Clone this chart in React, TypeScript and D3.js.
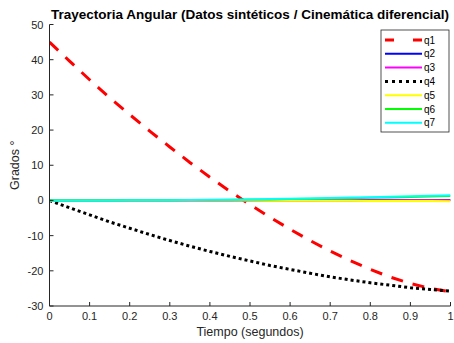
import React from "react";
import * as d3 from "d3";

const tValues = [0, 0.05, 0.1, 0.15, 0.2, 0.25, 0.3, 0.35, 0.4, 0.45, 0.5, 0.55, 0.6, 0.65, 0.7, 0.75, 0.8, 0.85, 0.9, 0.95, 1.0];
const q1 = [45, 39.6, 34.3, 29.2, 24.4, 19.7, 15.2, 10.8, 6.6, 2.6, -1.2, -4.8, -8.2, -11.4, -14.4, -17.1, -19.6, -21.8, -23.6, -25.0, -26.0];
const q2 = [0, 0, 0, 0, 0, 0, 0, 0, 0.01, 0.01, 0.02, 0.02, 0.03, 0.03, 0.04, 0.05, 0.05, 0.06, 0.07, 0.08, 0.09];
const q3 = [0, 0, 0, 0, 0, 0, 0, 0, 0, 0, 0.01, 0.01, 0.01, 0.01, 0.02, 0.02, 0.02, 0.03, 0.03, 0.03, 0.04];
const q4 = [0, -2.1, -4.1, -6.1, -7.9, -9.7, -11.4, -13.0, -14.5, -15.9, -17.2, -18.5, -19.6, -20.7, -21.7, -22.6, -23.4, -24.1, -24.8, -25.3, -25.8];
const q5 = [0, 0, 0, 0, 0, 0, -0.01, -0.02, -0.03, -0.04, -0.05, -0.06, -0.07, -0.09, -0.1, -0.11, -0.13, -0.15, -0.16, -0.18, -0.2];
const q6 = [0, 0, 0, 0.01, 0.02, 0.04, 0.06, 0.09, 0.13, 0.18, 0.24, 0.3, 0.38, 0.46, 0.55, 0.65, 0.75, 0.86, 0.98, 1.1, 1.25];
const q7 = [0, 0, 0, 0.01, 0.03, 0.05, 0.08, 0.12, 0.17, 0.23, 0.3, 0.38, 0.47, 0.57, 0.68, 0.8, 0.92, 1.06, 1.2, 1.35, 1.5];

const seriesNames = ["q1", "q2", "q3", "q4", "q5", "q6", "q7"];
const seriesData = [q1, q2, q3, q4, q5, q6, q7];
const seriesColors = ["#ff0000", "#0000ff", "#ff00ff", "#000000", "#ffff00", "#00ff00", "#00ffff"];
const seriesWidths = [3, 2, 2, 3, 2, 2, 2];
const seriesDash = ["12,10", null, null, "3,3", null, null, null];

const xTicks = [0, 0.1, 0.2, 0.3, 0.4, 0.5, 0.6, 0.7, 0.8, 0.9, 1];
const yTicks = [-30, -20, -10, 0, 10, 20, 30, 40, 50];

export default function App() {
  const W = 454, H = 343;
  const left = 49.5, right = 450.5, top = 24.5, bottom = 306;
  const x = d3.scaleLinear().domain([0, 1]).range([left, right]);
  const y = d3.scaleLinear().domain([-30, 50]).range([bottom, top]);
  const line = d3.line<number>().x((_, i) => x(tValues[i])).y((d) => y(d));
  const axisColor = "#262626";
  const font = "Liberation Sans, Arial, sans-serif";

  const legX = 381, legY = 30, legW = 68, legH = 102;
  const rowH = 13.8;

  return (
    <svg width={W} height={H} style={{ position: "absolute", left: 0, top: 0, background: "#fff" }} fontFamily={font}>
      <rect x={0} y={0} width={W} height={H} fill="#fff" />
      <defs>
        <clipPath id="plotclip">
          <rect x={left} y={top} width={right - left} height={bottom - top} />
        </clipPath>
      </defs>
      <g clipPath="url(#plotclip)">
        {seriesData.map((s, i) => (
          <path
            key={seriesNames[i]}
            d={line(s) || ""}
            fill="none"
            stroke={seriesColors[i]}
            strokeWidth={seriesWidths[i]}
            strokeDasharray={seriesDash[i] || undefined}
          />
        ))}
      </g>
      <line x1={left} y1={top} x2={left} y2={bottom} stroke={axisColor} strokeWidth={1} />
      <line x1={left} y1={bottom} x2={right} y2={bottom} stroke={axisColor} strokeWidth={1} />
      {xTicks.map((t) => (
        <g key={"x" + t}>
          <line x1={x(t)} x2={x(t)} y1={bottom} y2={bottom - 4} stroke={axisColor} />
          <text x={x(t)} y={bottom + 14} fontSize={11} fill={axisColor} textAnchor="middle">{String(t)}</text>
        </g>
      ))}
      {yTicks.map((t) => (
        <g key={"y" + t}>
          <line x1={left} x2={left + 4} y1={y(t)} y2={y(t)} stroke={axisColor} />
          <text x={left - 6} y={y(t) + 4} fontSize={11} fill={axisColor} textAnchor="end">{String(t)}</text>
        </g>
      ))}
      <text x={(left + right) / 2} y={18.5} fontSize={13.5} fontWeight="bold" fill="#000" textAnchor="middle">
        Trayectoria Angular (Datos sintéticos / Cinemática diferencial)
      </text>
      <text x={(left + right) / 2} y={335.5} fontSize={12.5} fill={axisColor} textAnchor="middle">Tiempo (segundos)</text>
      <text transform={`translate(19,${(top + bottom) / 2}) rotate(-90)`} fontSize={12.5} fill={axisColor} textAnchor="middle">Grados °</text>
      <rect x={legX} y={legY} width={legW} height={legH} fill="#fff" stroke={axisColor} strokeWidth={0.8} />
      {seriesNames.map((n, i) => {
        const yy = legY + 10 + i * rowH;
        return (
          <g key={"leg" + n}>
            <line x1={385} x2={422} y1={yy} y2={yy} stroke={seriesColors[i]} strokeWidth={seriesWidths[i]}
              strokeDasharray={i === 0 ? "9,19" : i === 3 ? "3,4" : undefined} />
            <text x={424} y={yy + 3.5} fontSize={10} fill="#000">{n}</text>
          </g>
        );
      })}
    </svg>
  );
}
